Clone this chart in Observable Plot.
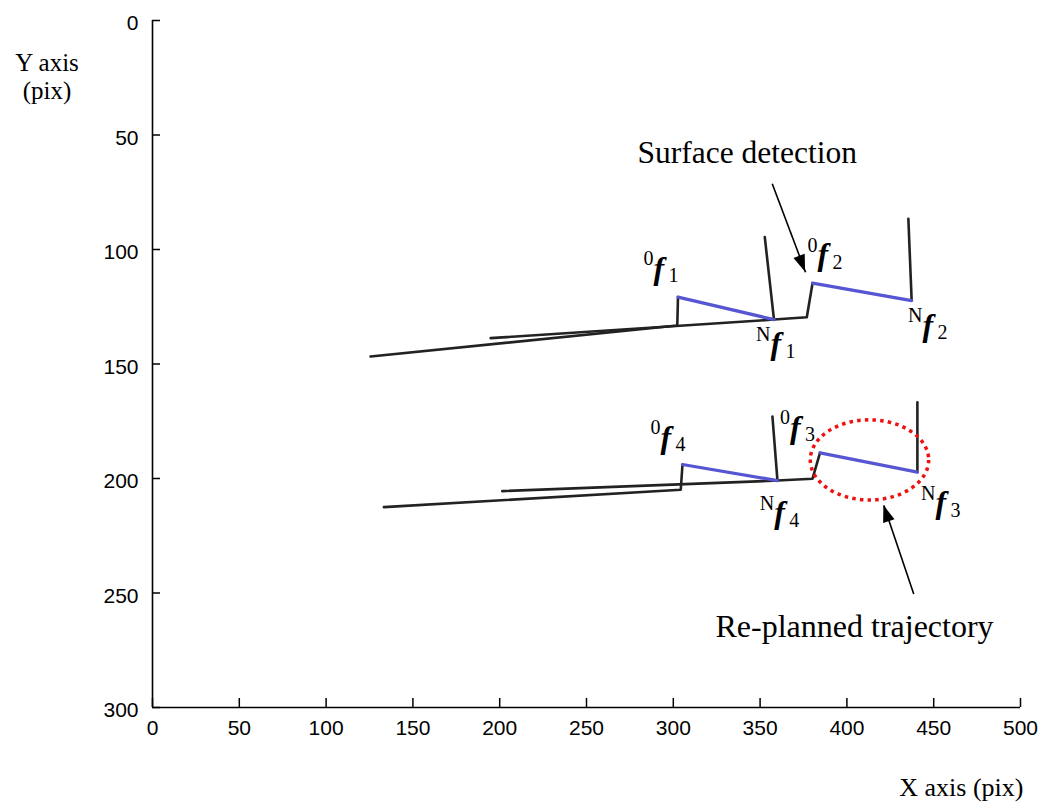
<!DOCTYPE html>
<html><head><meta charset="utf-8">
<script src="https://cdn.jsdelivr.net/npm/d3@7"></script>
<script src="https://cdn.jsdelivr.net/npm/@observablehq/plot@0.6"></script>
<style>html,body{margin:0;padding:0;background:#fff;} svg{display:block}</style>
</head><body><div id="chart"></div>
<script>
// ---- tick values ----
const xTicks = [0, 50, 100, 150, 200, 250, 300, 350, 400, 450, 500];
const yTicks = [0, 50, 100, 150, 200, 250, 300];

// ---- black tool paths (x, y in pix) ----
const black1X = [125.6, 302.3, 302.7];
const black1Y = [146.7, 133.2, 120.8];
const black1bX = [358.0, 352.7];
const black1bY = [130.6, 94.6];
const black2X = [194.8, 358.0, 376.9, 380.2];
const black2Y = [138.7, 130.6, 129.6, 114.7];
const black2bX = [437.3, 435.4];
const black2bY = [122.3, 86.6];
const black4X = [133.3, 304.3, 305.3];
const black4Y = [212.5, 204.9, 193.9];
const black4bX = [360.0, 357.1];
const black4bY = [200.9, 172.9];
const black3X = [201.5, 360.0, 380.2, 384.5];
const black3Y = [205.5, 200.9, 200.1, 188.8];
const black3bX = [440.6, 440.6];
const black3bY = [197.2, 166.7];

// ---- blue planned segments ----
const blue1X = [302.7, 358.0], blue1Y = [120.8, 130.6];
const blue2X = [380.2, 437.3], blue2Y = [114.7, 122.3];
const blue4X = [305.3, 360.0], blue4Y = [193.9, 200.9];
const blue3X = [384.5, 440.6], blue3Y = [188.8, 197.2];

// ---- point labels ----
const labelPre = ["0", "N", "0", "N", "0", "N", "0", "N"];
const labelSub = ["1", "1", "2", "2", "4", "4", "3", "3"];
const labelX = [288.6, 356.0, 383.1, 443.5, 292.6, 358.1, 367.2, 451.0];
const labelY = [114.4, 147.2, 108.3, 139.3, 188.2, 221.0, 183.8, 216.6];

// ---- annotations ----
const noteText = ["Surface detection", "Re-planned trajectory"];
const noteX = [279.4, 324.3];
const noteY = [62.4, 269.4];
const arrowX1 = [357.0, 438.5], arrowY1 = [71.3, 250.4];
const arrowX2 = [376.2, 421.3], arrowY2 = [109.9, 211.8];
const ringCenter = [413.3, 192.1];
const ringRadius = [34.1, 17.5];

const rows = (id, xs, ys) => xs.map((x, i) => ({id, x, y: ys[i]}));
const blackRows = [
  ...rows("b1", black1X, black1Y), ...rows("b1b", black1bX, black1bY),
  ...rows("b2", black2X, black2Y), ...rows("b2b", black2bX, black2bY),
  ...rows("b4", black4X, black4Y), ...rows("b4b", black4bX, black4bY),
  ...rows("b3", black3X, black3Y), ...rows("b3b", black3bX, black3bY)
];
const blueRows = [
  ...rows("u1", blue1X, blue1Y), ...rows("u2", blue2X, blue2Y),
  ...rows("u4", blue4X, blue4Y), ...rows("u3", blue3X, blue3Y)
];
const labels = labelX.map((x, i) => ({x, y: labelY[i], pre: labelPre[i], sub: labelSub[i]}));
const notes = noteText.map((t, i) => ({t, x: noteX[i], y: noteY[i]}));
const arrows = arrowX1.map((x1, i) => ({x1, y1: arrowY1[i], x2: arrowX2[i], y2: arrowY2[i]}));

const W = 1044, H = 803, ML = 152, MR = 24, MT = 20, MB = 96;
const frameW = W - ML - MR, frameH = H - MT - MB;
const serif = "Liberation Serif, Times New Roman, serif";

const ringMark = (index, scales) => {
  const cx = scales.x(ringCenter[0]), cy = scales.y(ringCenter[1]);
  const rx = Math.abs(scales.x(ringCenter[0] + ringRadius[0]) - cx);
  const ry = Math.abs(scales.y(ringCenter[1] + ringRadius[1]) - cy);
  return d3.create("svg:ellipse")
    .attr("cx", cx).attr("cy", cy).attr("rx", rx).attr("ry", ry)
    .attr("fill", "none").attr("stroke", "#ee1111")
    .attr("stroke-width", 3.5).attr("stroke-dasharray", "3.5 4.2")
    .node();
};

const headMark = (index, scales) => {
  const g = d3.create("svg:g");
  for (const a of arrows) {
    const x1 = scales.x(a.x1), y1 = scales.y(a.y1), x2 = scales.x(a.x2), y2 = scales.y(a.y2);
    const ang = Math.atan2(y2 - y1, x2 - x1) * 180 / Math.PI;
    g.append("path")
      .attr("d", "M0,0L-17,-6L-17,6Z")
      .attr("fill", "black")
      .attr("transform", `translate(${x2},${y2}) rotate(${ang})`);
  }
  return g.node();
};

const chart = Plot.plot({
  width: W, height: H,
  marginLeft: ML, marginRight: MR, marginTop: MT, marginBottom: MB,
  style: {background: "white", color: "black", fontFamily: "Liberation Sans, Arial, sans-serif", fontSize: "21px"},
  x: {domain: [0, 500]},
  y: {domain: [0, 300], reverse: true},
  marks: [
    Plot.axisX(xTicks, {tickSize: 0, tickPadding: 13, fontSize: 21, label: null}),
    Plot.axisY(yTicks, {tickSize: 0, tickPadding: 14, fontSize: 21, dy: 3, label: null}),
    Plot.ruleX(xTicks, {insetTop: frameH - 9, stroke: "black", strokeWidth: 1.5}),
    Plot.ruleY(yTicks, {insetRight: frameW - 8, stroke: "black", strokeWidth: 1.5}),
    Plot.ruleX([0], {stroke: "black", strokeWidth: 1.6}),
    Plot.ruleY([300], {stroke: "black", strokeWidth: 1.6}),
    Plot.line(blackRows, {x: "x", y: "y", z: "id", stroke: "#222", strokeWidth: 2.6, strokeLinejoin: "round", strokeLinecap: "round"}),
    Plot.line(blueRows, {x: "x", y: "y", z: "id", stroke: "#5656d2", strokeWidth: 3.2, strokeLinecap: "round"}),
    ringMark,
    Plot.link(arrows, {x1: "x1", y1: "y1", x2: "x2", y2: "y2", stroke: "black", strokeWidth: 1.6}),
    headMark,
    Plot.text(notes.slice(0, 1), {x: "x", y: "y", text: "t", textAnchor: "start", lineAnchor: "bottom", fontFamily: serif, fontSize: 31.5, fill: "black"}),
    Plot.text(notes.slice(1), {x: "x", y: "y", text: "t", textAnchor: "start", lineAnchor: "bottom", fontFamily: serif, fontSize: 32, fill: "black"}),
    Plot.text(labels, {x: "x", y: "y", text: () => "f", textAnchor: "start", lineAnchor: "bottom", dy: -3.5, fontFamily: serif, fontSize: 32, fontWeight: "bold", fontStyle: "italic", fill: "black"}),
    Plot.text(labels, {x: "x", y: "y", text: "pre", textAnchor: "end", lineAnchor: "bottom", dx: 0, dy: -17, fontFamily: serif, fontSize: 20, fill: "black"}),
    Plot.text(labels, {x: "x", y: "y", text: "sub", textAnchor: "start", lineAnchor: "bottom", dx: 15, dy: 0, fontFamily: serif, fontSize: 20, fill: "black"}),
    Plot.text(["Y axis"], {frameAnchor: "top-left", dx: -105.5, dy: 50, textAnchor: "middle", lineAnchor: "bottom", fontFamily: serif, fontSize: 25, fill: "black"}),
    Plot.text(["(pix)"], {frameAnchor: "top-left", dx: -105.5, dy: 78, textAnchor: "middle", lineAnchor: "bottom", fontFamily: serif, fontSize: 25, fill: "black"}),
    Plot.text(["X axis (pix)"], {frameAnchor: "bottom-right", dx: 3, dy: 88, textAnchor: "end", lineAnchor: "bottom", fontFamily: serif, fontSize: 26, fill: "black"})
  ]
});
document.getElementById("chart").appendChild(chart);
</script>
</body></html>
